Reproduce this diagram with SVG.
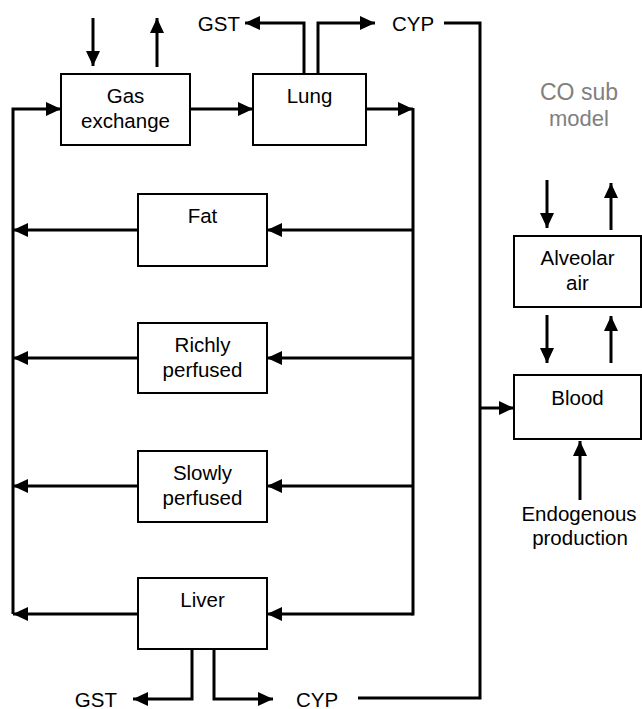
<svg xmlns="http://www.w3.org/2000/svg" width="642" height="709" viewBox="0 0 642 709">
<defs>
<marker id="ah" markerUnits="userSpaceOnUse" markerWidth="16" markerHeight="16" refX="15" refY="7" orient="auto">
<path d="M0,0 L15,7 L0,14 z" fill="#000"/>
</marker>
<style>
.box{fill:#fff;stroke:#000;stroke-width:2}
.t{font-family:"Liberation Sans",Arial,sans-serif;font-size:20.5px;fill:#000;text-anchor:middle}
.l{font-family:"Liberation Sans",Arial,sans-serif;font-size:20.5px;fill:#000}
.g{font-family:"Liberation Sans",Arial,sans-serif;font-size:22px;fill:#808080;text-anchor:middle}
.c{fill:none;stroke:#000;stroke-width:3}
.a{fill:none;stroke:#000;stroke-width:3;marker-end:url(#ah)}
</style>
</defs>
<rect width="642" height="709" fill="#fff"/>
<g id="connectors">
<line class="a" x1="93" y1="18" x2="93" y2="66"/>
<line class="a" x1="157" y1="67" x2="157" y2="18"/>
<polyline class="a" points="13,614 13,109 61,109"/>
<line class="a" x1="190" y1="109" x2="253" y2="109"/>
<line class="a" x1="366" y1="109" x2="413" y2="109"/>
<line class="c" x1="413" y1="108" x2="413" y2="615.5"/>
<line class="a" x1="413" y1="230" x2="267" y2="230"/>
<line class="a" x1="413" y1="358" x2="267" y2="358"/>
<line class="a" x1="413" y1="486" x2="267" y2="486"/>
<line class="a" x1="413" y1="614" x2="267" y2="614"/>
<line class="a" x1="138" y1="230" x2="13" y2="230"/>
<line class="a" x1="138" y1="358" x2="13" y2="358"/>
<line class="a" x1="138" y1="486" x2="13" y2="486"/>
<line class="a" x1="138" y1="614" x2="13" y2="614"/>
<polyline class="a" points="304,74 304,23 245,23"/>
<polyline class="a" points="318,74 318,23 375,23"/>
<polyline class="c" points="444,23 480,23 480,698 358,698"/>
<line class="a" x1="480" y1="408" x2="514" y2="408"/>
<polyline class="a" points="192,649 192,699 133,699"/>
<polyline class="a" points="214,649 214,699 273,699"/>
<line class="a" x1="547" y1="180" x2="547" y2="228"/>
<line class="a" x1="611" y1="230" x2="611" y2="183"/>
<line class="a" x1="547" y1="315" x2="547" y2="363"/>
<line class="a" x1="611" y1="363" x2="611" y2="316"/>
<line class="a" x1="580" y1="500" x2="580" y2="441"/>
</g>
<g id="gas-exchange"><rect class="box" x="61" y="74" width="129" height="71"/><text class="t" x="125.5" y="103">Gas</text><text class="t" x="125.5" y="127.5">exchange</text></g>
<g id="lung"><rect class="box" x="253" y="74" width="113" height="71"/><text class="t" x="309.5" y="103">Lung</text></g>
<g id="fat"><rect class="box" x="138" y="194" width="129" height="72"/><text class="t" x="202.5" y="223">Fat</text></g>
<g id="richly"><rect class="box" x="138" y="323" width="129" height="70"/><text class="t" x="202.5" y="352">Richly</text><text class="t" x="202.5" y="376.5">perfused</text></g>
<g id="slowly"><rect class="box" x="138" y="451" width="129" height="71"/><text class="t" x="202.5" y="480">Slowly</text><text class="t" x="202.5" y="504.5">perfused</text></g>
<g id="liver"><rect class="box" x="138" y="578" width="129" height="71"/><text class="t" x="202.5" y="607">Liver</text></g>
<g id="alveolar-air"><rect class="box" x="514" y="236" width="127" height="71"/><text class="t" x="577.5" y="265">Alveolar</text><text class="t" x="577.5" y="289.5">air</text></g>
<g id="blood"><rect class="box" x="514" y="375" width="127" height="64"/><text class="t" x="577.5" y="405">Blood</text></g>
<g id="labels">
<text class="l" x="240" y="31" text-anchor="end">GST</text>
<text class="l" x="392" y="31">CYP</text>
<text class="l" x="117" y="706.5" text-anchor="end">GST</text>
<text class="l" x="296" y="706.5">CYP</text>
<text class="g" x="579" y="100" style="font-size:23px">CO sub</text>
<text class="g" x="579" y="125.5">model</text>
<text class="t" x="579" y="521">Endogenous</text>
<text class="t" x="580" y="545">production</text>
</g>
</svg>
